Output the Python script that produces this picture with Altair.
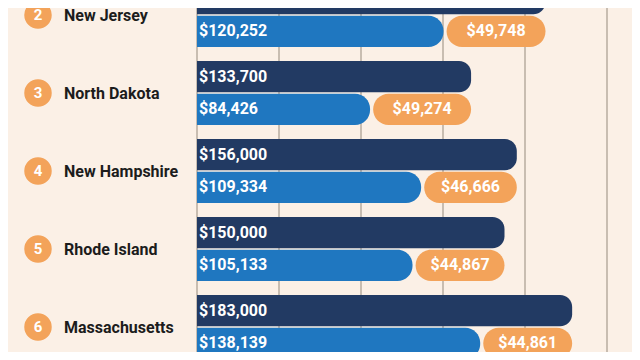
import altair as alt
import pandas as pd

# ---- data ----
states = ["New Jersey", "North Dakota", "New Hampshire", "Rhode Island", "Massachusetts"]
ranks = [2, 3, 4, 5, 6]
gross = [170000, 133700, 156000, 150000, 183000]
take_home = [120252, 84426, 109334, 105133, 138139]
taxes = [49748, 49274, 46666, 44867, 44861]
grid_values = [0, 40000, 80000, 120000, 160000, 200000]

df = pd.DataFrame({
    "state": states,
    "rank": ranks,
    "gross": gross,
    "take_home": take_home,
    "taxes": taxes,
})

BG = "#fbf0e6"
NAVY = "#223a63"
BLUE = "#1f77c0"
ORANGE = "#f3a35a"
GRID = "#c8bdb1"
FONT = "Roboto"

W, H = 624, 344
xs = alt.Scale(domain=[0, 200000], range=[189, 599])
ys = alt.Scale(domain=[149 / 78, (H + 149) / 78], range=[0, H])

base = alt.Chart(df).transform_calculate(
    zero="0",
    dark_top="datum.rank - 0.41",
    dark_bot="datum.rank - 0.01",
    dark_mid="datum.rank - 0.21",
    light_top="datum.rank + 0.01",
    light_bot="datum.rank + 0.41",
    light_mid="datum.rank + 0.21",
    tax_start="datum.take_home + 1500",
    tax_mid="(datum.take_home + 1500 + datum.gross) / 2",
    rank_label="'' + datum.rank",
)

grid = alt.Chart(pd.DataFrame({"g": grid_values})).mark_rule(
    color=GRID, strokeWidth=2
).encode(
    x=alt.X("g:Q", scale=xs, axis=None),
    y=alt.value(0),
    y2=alt.value(H),
)

dark = base.mark_bar(
    color=NAVY, cornerRadiusTopRight=12, cornerRadiusBottomRight=12
).encode(
    x=alt.X("zero:Q", scale=xs, axis=None),
    x2="gross:Q",
    y=alt.Y("dark_top:Q", scale=ys, axis=None),
    y2="dark_bot:Q",
)

light = base.mark_bar(
    color=BLUE, cornerRadiusTopRight=15, cornerRadiusBottomRight=15
).encode(
    x=alt.X("zero:Q", scale=xs, axis=None),
    x2="take_home:Q",
    y=alt.Y("light_top:Q", scale=ys, axis=None),
    y2="light_bot:Q",
)

tax = base.mark_bar(color=ORANGE, cornerRadius=15.5).encode(
    x=alt.X("tax_start:Q", scale=xs, axis=None),
    x2="gross:Q",
    y=alt.Y("light_top:Q", scale=ys, axis=None),
    y2="light_bot:Q",
)

txt = dict(font=FONT, fontWeight="bold", fontSize=16, color="white", baseline="middle")

dark_lbl = base.mark_text(align="left", dx=2, **txt).encode(
    x=alt.X("zero:Q", scale=xs, axis=None),
    y=alt.Y("dark_mid:Q", scale=ys, axis=None),
    text=alt.Text("gross:Q", format="$,.0f"),
)

light_lbl = base.mark_text(align="left", dx=2, **txt).encode(
    x=alt.X("zero:Q", scale=xs, axis=None),
    y=alt.Y("light_mid:Q", scale=ys, axis=None),
    text=alt.Text("take_home:Q", format="$,.0f"),
)

tax_lbl = base.mark_text(align="center", **txt).encode(
    x=alt.X("tax_mid:Q", scale=xs, axis=None),
    y=alt.Y("light_mid:Q", scale=ys, axis=None),
    text=alt.Text("taxes:Q", format="$,.0f"),
)

circles = base.mark_circle(color=ORANGE, opacity=1, size=755).encode(
    x=alt.value(30),
    y=alt.Y("rank:Q", scale=ys, axis=None),
)

rank_txt = base.mark_text(
    font=FONT, fontWeight="bold", fontSize=15, color="white", align="center", baseline="middle"
).encode(
    x=alt.value(30),
    y=alt.Y("rank:Q", scale=ys, axis=None),
    text="rank_label:N",
)

state_txt = base.mark_text(
    font=FONT, fontWeight="bold", fontSize=16, color="#1c1c1c", align="left", baseline="middle", dy=1
).encode(
    x=alt.value(56),
    y=alt.Y("rank:Q", scale=ys, axis=None),
    text="state:N",
)

chart = alt.layer(
    grid, dark, light, tax, dark_lbl, light_lbl, tax_lbl, circles, rank_txt, state_txt
).properties(
    width=W, height=H, background=BG, padding=0,
    autosize=alt.AutoSizeParams(type="none"),
).configure_view(stroke=None)

chart.save("out.html", embed_options={"renderer": "svg", "actions": False})
